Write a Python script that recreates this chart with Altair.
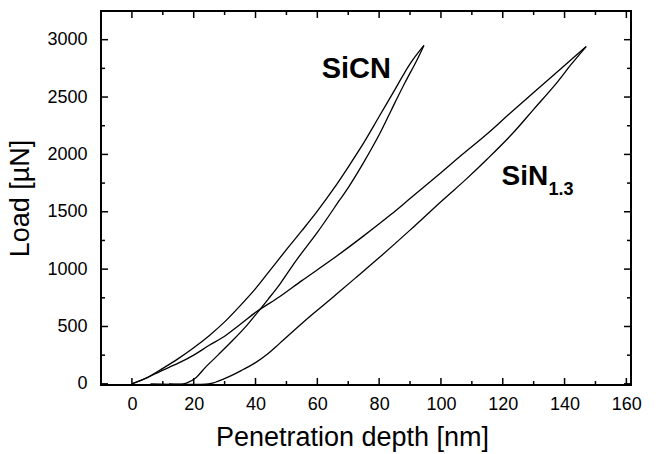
import altair as alt
import pandas as pd

# ---- data ----
sicn_load_x = [0, 5, 10, 15, 20, 25, 30, 35, 40, 45, 50, 55, 60, 65, 70, 75, 80, 85, 90, 94.5]
sicn_load_y = [0, 55, 135, 220, 315, 420, 540, 680, 830, 1000, 1170, 1335, 1505, 1690, 1890, 2100, 2330, 2560, 2790, 2950]

sicn_unload_x = [94.5, 92, 88.3, 84, 80.3, 75, 70, 67.3, 60, 53.3, 47.9, 44, 40.4, 37.2, 32.8, 28, 24, 20.5, 18, 16.7, 12]
sicn_unload_y = [2950, 2810, 2622, 2390, 2186, 1930, 1710, 1605, 1320, 1081, 870, 735, 615, 510, 384, 255, 150, 49, 10, 0, 0]

sin_load_x = [0, 5, 9, 15, 20, 25, 30, 35, 40.4, 47.9, 55, 64.6, 75, 84, 90, 100, 106.5, 115, 122, 130, 140, 147]
sin_load_y = [0, 55, 107, 180, 250, 336, 415, 517, 630, 761, 900, 1081, 1290, 1480, 1615, 1840, 1990, 2180, 2350, 2540, 2775, 2940]

sin_unload_x = [147, 142, 137.4, 130, 123.3, 115, 108, 100.7, 90, 79.2, 72, 64.1, 56, 47.9, 44, 40, 36, 33, 29.6, 27, 24.8, 6]
sin_unload_y = [2940, 2780, 2622, 2393, 2186, 1960, 1780, 1605, 1340, 1081, 915, 733, 550, 355, 262, 185, 125, 82, 41, 14, 0, 0]

x_major = [0, 20, 40, 60, 80, 100, 120, 140, 160]
x_minor = [10, 30, 50, 70, 90, 110, 130, 150]
y_major = [0, 500, 1000, 1500, 2000, 2500, 3000]
y_minor = [250, 750, 1250, 1750, 2250, 2750]

label_text = ["SiCN", "SiN", "1.3"]
label_x = [61.4, 119.6, 134.8]
label_y = [2666, 1735, 1648]
label_size = [29, 28, 18]

# ---- tables ----
rows = []
for name, xs, ys in [("SiCN load", sicn_load_x, sicn_load_y),
                     ("SiCN unload", sicn_unload_x, sicn_unload_y),
                     ("SiN load", sin_load_x, sin_load_y),
                     ("SiN unload", sin_unload_x, sin_unload_y)]:
    for i, (a, b) in enumerate(zip(xs, ys)):
        rows.append({"series": name, "i": i, "x": a, "y": b})
curves = pd.DataFrame(rows)

labels = pd.DataFrame({"text": label_text, "x": label_x, "y": label_y, "size": label_size})

W, H = 530, 374
FONT = "Liberation Sans"

xscale = alt.Scale(domain=[-10, 161.5], nice=False, zero=False)
yscale = alt.Scale(domain=[-10, 3250], nice=False, zero=False)

xaxis = alt.Axis(title="Penetration depth [nm]", values=x_major, ticks=False, format="d",
                 domain=False, grid=False, labelFontSize=18, labelPadding=10,
                 titleFontSize=27, titleFontWeight="normal", titlePadding=11, titleX=251,
                 labelColor="black", titleColor="black", labelFont=FONT, titleFont=FONT)
yaxis = alt.Axis(title="Load [µN]", values=y_major, ticks=False, format="d",
                 domain=False, grid=False, labelFontSize=18, labelPadding=14,
                 titleFontSize=27, titleFontWeight="normal", titlePadding=12,
                 labelColor="black", titleColor="black", labelFont=FONT, titleFont=FONT)

X = lambda: alt.X("x:Q", scale=xscale, axis=xaxis)
Y = lambda: alt.Y("y:Q", scale=yscale, axis=yaxis)

lines = alt.Chart(curves).mark_line(color="black", strokeWidth=1.3, interpolate="catmull-rom").encode(
    x=X(), y=Y(), detail="series:N", order="i:Q",
)

text = alt.Chart(labels).mark_text(font=FONT, fontWeight="bold", align="left",
                                   baseline="alphabetic", color="black").encode(
    x=X(), y=Y(), text="text:N",
    size=alt.Size("size:Q", scale=None, legend=None),
)


def xticks(vals, length):
    df = pd.DataFrame({"x": vals})
    base = alt.Chart(df).mark_rule(color="black", strokeWidth=1.5)
    bottom = base.encode(x=X(), y=alt.value(H), y2=alt.value(H - length))
    top = base.encode(x=X(), y=alt.value(0), y2=alt.value(length))
    return [bottom, top]


def yticks(vals, length):
    df = pd.DataFrame({"y": vals})
    base = alt.Chart(df).mark_rule(color="black", strokeWidth=1.5)
    left = base.encode(y=Y(), x=alt.value(0), x2=alt.value(length))
    right = base.encode(y=Y(), x=alt.value(W), x2=alt.value(W - length))
    return [left, right]


layers = [lines, text] + xticks(x_major, 7) + xticks(x_minor, 4) + yticks(y_major, 7) + yticks(y_minor, 4)

chart = alt.layer(*layers).properties(
    width=W, height=H,
    autosize=alt.AutoSizeParams(type="none"),
    padding={"left": 101, "top": 11, "right": 30, "bottom": 69},
    background="white",
).configure_view(stroke="black", strokeWidth=2)

chart.save("out.html", embed_options={"renderer": "svg", "actions": False})
